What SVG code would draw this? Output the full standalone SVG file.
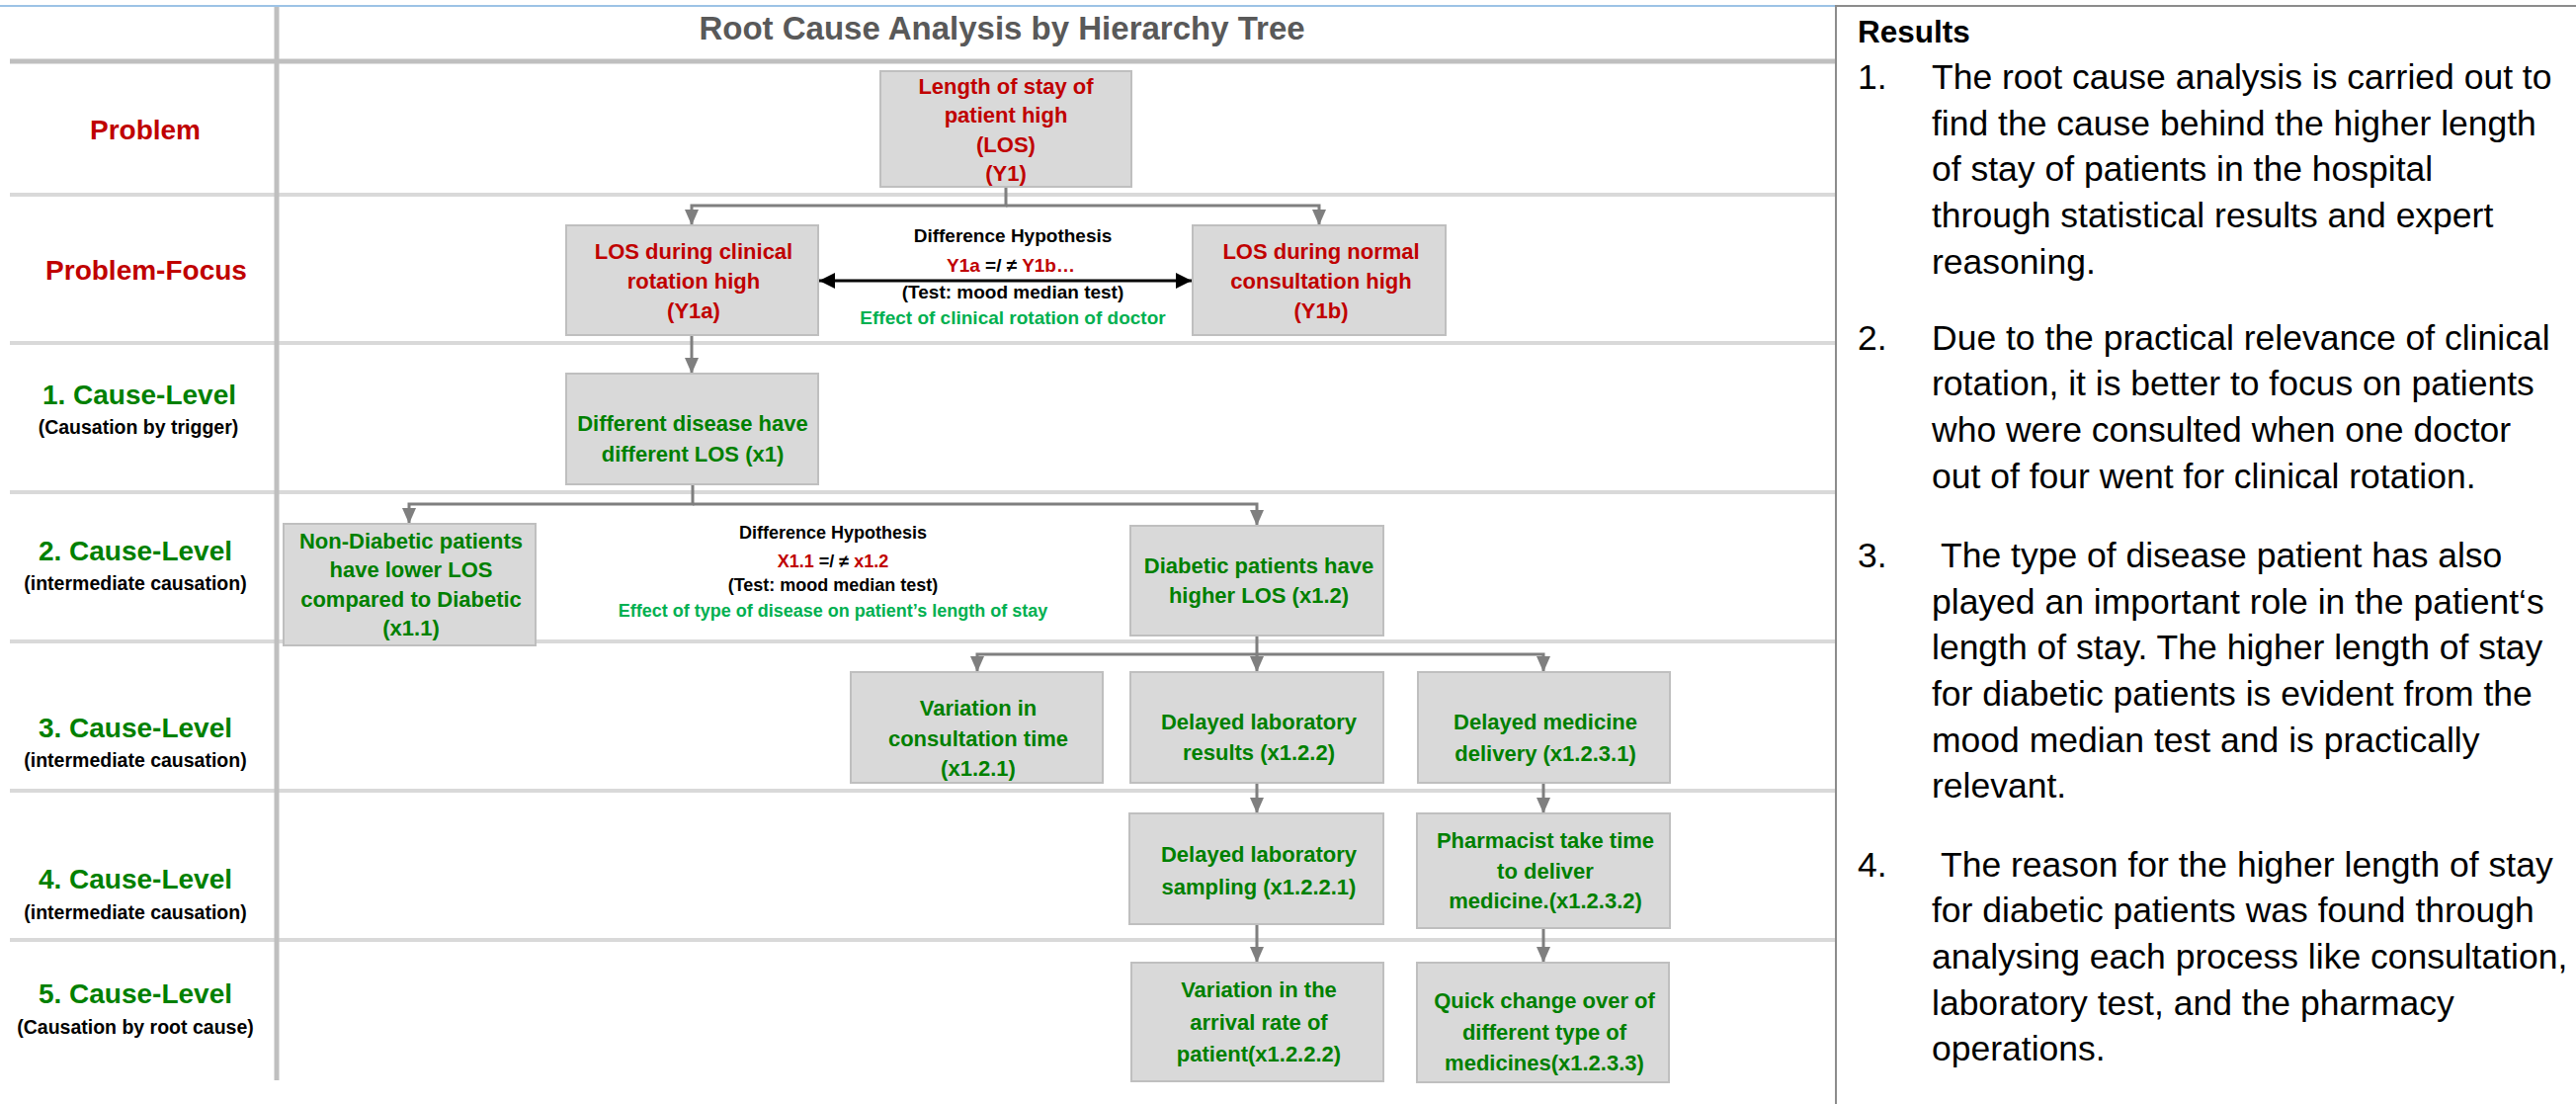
<svg xmlns="http://www.w3.org/2000/svg" width="2607" height="1117" viewBox="0 0 2607 1117">
<style>
text{font-family:"Liberation Sans",Arial,sans-serif;}
.box{fill:#D9D9D9;stroke:#BFBFBF;stroke-width:2;}
.bt{font-size:22px;font-weight:bold;text-anchor:middle;}
.red{fill:#C00000;}
.grn{fill:#008000;}
.lgrn{fill:#00B050;}
.blk{fill:#000000;}
.lvl{font-size:28px;font-weight:bold;text-anchor:middle;}
.sub{font-size:19.5px;font-weight:bold;text-anchor:middle;fill:#000;}
.hyp{font-weight:bold;text-anchor:middle;}
.res{font-size:35.5px;fill:#000;}
.conn{fill:none;stroke:#7F7F7F;stroke-width:3;}
.row{stroke:#D9D9D9;stroke-width:4;}
</style>
<defs>
<marker id="ah" viewBox="0 0 16 14" refX="16" refY="7" markerWidth="16" markerHeight="14" markerUnits="userSpaceOnUse" orient="auto">
<path d="M0,0 L16,7 L0,14 z" fill="#7F7F7F"/>
</marker>
<marker id="ahb" viewBox="0 0 16 16" refX="16" refY="8" markerWidth="16" markerHeight="16" markerUnits="userSpaceOnUse" orient="auto-start-reverse">
<path d="M0,0 L16,8 L0,16 z" fill="#000"/>
</marker>
</defs>
<rect width="2607" height="1117" fill="#FFFFFF"/>

<g id="grid">
<line x1="0" y1="6" x2="1858" y2="6" stroke="#9DC3E6" stroke-width="2"/>
<line x1="10" y1="62" x2="1858" y2="62" stroke="#BFBFBF" stroke-width="5"/>
<line class="row" x1="10" y1="197" x2="1858" y2="197"/>
<line class="row" x1="10" y1="347" x2="1858" y2="347"/>
<line class="row" x1="10" y1="498" x2="1858" y2="498"/>
<line class="row" x1="10" y1="649" x2="1858" y2="649"/>
<line class="row" x1="10" y1="800" x2="1858" y2="800"/>
<line class="row" x1="10" y1="951" x2="1858" y2="951"/>
<line x1="280" y1="7" x2="280" y2="1093" stroke="#BFBFBF" stroke-width="5"/>
</g>

<g id="title">
<text x="1014" y="40" font-size="33" font-weight="bold" fill="#595959" text-anchor="middle">Root Cause Analysis by Hierarchy Tree</text>
</g>

<g id="row-labels">
<text class="lvl red" x="147" y="141" font-size="30.5">Problem</text>
<text class="lvl red" x="148" y="283" font-size="28.5">Problem-Focus</text>
<text class="lvl grn" x="141" y="409">1. Cause-Level</text>
<text class="sub" x="140" y="439">(Causation by trigger)</text>
<text class="lvl grn" x="137" y="567">2. Cause-Level</text>
<text class="sub" x="137" y="597">(intermediate causation)</text>
<text class="lvl grn" x="137" y="746">3. Cause-Level</text>
<text class="sub" x="137" y="776">(intermediate causation)</text>
<text class="lvl grn" x="137" y="899">4. Cause-Level</text>
<text class="sub" x="137" y="930">(intermediate causation)</text>
<text class="lvl grn" x="137" y="1015">5. Cause-Level</text>
<text class="sub" x="137" y="1046">(Causation by root cause)</text>
</g>

<g id="connectors">
<path class="conn" d="M1018,189 V208 H700 V228" marker-end="url(#ah)"/>
<path class="conn" d="M1018,208 H1335 V228" marker-end="url(#ah)"/>
<line x1="829" y1="284" x2="1206" y2="284" stroke="#000" stroke-width="3" marker-start="url(#ahb)" marker-end="url(#ahb)"/>
<path class="conn" d="M700,339 V378" marker-end="url(#ah)"/>
<path class="conn" d="M701,490 V510 H414 V530" marker-end="url(#ah)"/>
<path class="conn" d="M701,510 H1272 V532" marker-end="url(#ah)"/>
<path class="conn" d="M1272,643 V662 H989 V680" marker-end="url(#ah)"/>
<path class="conn" d="M1272,662 V680" marker-end="url(#ah)"/>
<path class="conn" d="M1272,662 H1562 V680" marker-end="url(#ah)"/>
<path class="conn" d="M1272,792 V823" marker-end="url(#ah)"/>
<path class="conn" d="M1562,792 V823" marker-end="url(#ah)"/>
<path class="conn" d="M1272,935 V974" marker-end="url(#ah)"/>
<path class="conn" d="M1562,939 V974" marker-end="url(#ah)"/>
</g>

<g id="hyp1">
<text class="hyp blk" x="1025" y="245" font-size="19">Difference Hypothesis</text>
<text class="hyp blk" x="1023" y="275" font-size="19"><tspan class="red">Y1a</tspan> =/ ≠ <tspan class="red">Y1b…</tspan></text>
<text class="hyp blk" x="1025" y="302" font-size="19">(Test: mood median test)</text>
<text class="hyp lgrn" x="1025" y="328" font-size="19">Effect of clinical rotation of doctor</text>
</g>

<g id="hyp2">
<text class="hyp blk" x="843" y="545" font-size="18">Difference Hypothesis</text>
<text class="hyp blk" x="843" y="574" font-size="18"><tspan class="red">X1.1</tspan> =/ ≠ <tspan class="red">x1.2</tspan></text>
<text class="hyp blk" x="843" y="598" font-size="18">(Test: mood median test)</text>
<text class="hyp lgrn" x="843" y="624" font-size="18">Effect of type of disease on patient’s length of stay</text>
</g>

<g id="Y1">
<rect class="box" x="891" y="72" width="254" height="117"/>
<text class="bt red" x="1018" y="95">Length of stay of</text>
<text class="bt red" x="1018" y="124">patient high</text>
<text class="bt red" x="1018" y="154">(LOS)</text>
<text class="bt red" x="1018" y="183">(Y1)</text>
</g>
<g id="Y1a">
<rect class="box" x="573" y="228" width="255" height="111"/>
<text class="bt red" x="702" y="262">LOS during clinical</text>
<text class="bt red" x="702" y="292">rotation high</text>
<text class="bt red" x="702" y="322">(Y1a)</text>
</g>
<g id="Y1b">
<rect class="box" x="1207" y="228" width="256" height="111"/>
<text class="bt red" x="1337" y="262">LOS during normal</text>
<text class="bt red" x="1337" y="292">consultation high</text>
<text class="bt red" x="1337" y="322">(Y1b)</text>
</g>
<g id="x1">
<rect class="box" x="573" y="378" width="255" height="112"/>
<text class="bt grn" x="701" y="436">Different disease have</text>
<text class="bt grn" x="701" y="467">different LOS (x1)</text>
</g>
<g id="x1_1">
<rect class="box" x="287" y="530" width="255" height="123"/>
<text class="bt grn" x="416" y="555">Non-Diabetic patients</text>
<text class="bt grn" x="416" y="584">have lower LOS</text>
<text class="bt grn" x="416" y="614">compared to Diabetic</text>
<text class="bt grn" x="416" y="643">(x1.1)</text>
</g>
<g id="x1_2">
<rect class="box" x="1144" y="532" width="256" height="111"/>
<text class="bt grn" x="1274" y="580">Diabetic patients have</text>
<text class="bt grn" x="1274" y="610">higher LOS (x1.2)</text>
</g>
<g id="x1_2_1">
<rect class="box" x="861" y="680" width="255" height="112"/>
<text class="bt grn" x="990" y="724">Variation in</text>
<text class="bt grn" x="990" y="755">consultation time</text>
<text class="bt grn" x="990" y="785">(x1.2.1)</text>
</g>
<g id="x1_2_2">
<rect class="box" x="1144" y="680" width="256" height="112"/>
<text class="bt grn" x="1274" y="738">Delayed laboratory</text>
<text class="bt grn" x="1274" y="769">results (x1.2.2)</text>
</g>
<g id="x1_2_3_1">
<rect class="box" x="1435" y="680" width="255" height="112"/>
<text class="bt grn" x="1564" y="738">Delayed medicine</text>
<text class="bt grn" x="1564" y="770">delivery (x1.2.3.1)</text>
</g>
<g id="x1_2_2_1">
<rect class="box" x="1143" y="823" width="257" height="112"/>
<text class="bt grn" x="1274" y="872">Delayed laboratory</text>
<text class="bt grn" x="1274" y="905">sampling (x1.2.2.1)</text>
</g>
<g id="x1_2_3_2">
<rect class="box" x="1434" y="823" width="256" height="116"/>
<text class="bt grn" x="1564" y="858">Pharmacist take time</text>
<text class="bt grn" x="1564" y="889">to deliver</text>
<text class="bt grn" x="1564" y="919">medicine.(x1.2.3.2)</text>
</g>
<g id="x1_2_2_2">
<rect class="box" x="1145" y="974" width="255" height="120"/>
<text class="bt grn" x="1274" y="1009">Variation in the</text>
<text class="bt grn" x="1274" y="1042">arrival rate of</text>
<text class="bt grn" x="1274" y="1074">patient(x1.2.2.2)</text>
</g>
<g id="x1_2_3_3">
<rect class="box" x="1434" y="974" width="255" height="121"/>
<text class="bt grn" x="1563" y="1020">Quick change over of</text>
<text class="bt grn" x="1563" y="1052">different type of</text>
<text class="bt grn" x="1563" y="1083">medicines(x1.2.3.3)</text>
</g>

<g id="results">
<path d="M1858,1117 V6 H2610" fill="none" stroke="#8C8C8C" stroke-width="2"/>
<text x="1880" y="43" font-size="31.5" font-weight="bold" fill="#000">Results</text>
<text class="res" x="1880" y="90">1.</text>
<text class="res" x="1955" y="90">The root cause analysis is carried out to</text>
<text class="res" x="1955" y="137">find the cause behind the higher length</text>
<text class="res" x="1955" y="183">of stay of patients in the hospital</text>
<text class="res" x="1955" y="230">through statistical results and expert</text>
<text class="res" x="1955" y="277">reasoning.</text>
<text class="res" x="1880" y="354">2.</text>
<text class="res" x="1955" y="354">Due to the practical relevance of clinical</text>
<text class="res" x="1955" y="400">rotation, it is better to focus on patients</text>
<text class="res" x="1955" y="447">who were consulted when one doctor</text>
<text class="res" x="1955" y="494">out of four went for clinical rotation.</text>
<text class="res" x="1880" y="574">3.</text>
<text class="res" x="1964" y="574">The type of disease patient has also</text>
<text class="res" x="1955" y="621">played an important role in the patient‘s</text>
<text class="res" x="1955" y="667">length of stay. The higher length of stay</text>
<text class="res" x="1955" y="714">for diabetic patients is evident from the</text>
<text class="res" x="1955" y="761">mood median test and is practically</text>
<text class="res" x="1955" y="807">relevant.</text>
<text class="res" x="1880" y="887">4.</text>
<text class="res" x="1964" y="887">The reason for the higher length of stay</text>
<text class="res" x="1955" y="933">for diabetic patients was found through</text>
<text class="res" x="1955" y="980">analysing each process like consultation,</text>
<text class="res" x="1955" y="1027">laboratory test, and the pharmacy</text>
<text class="res" x="1955" y="1073">operations.</text>
</g>
</svg>
